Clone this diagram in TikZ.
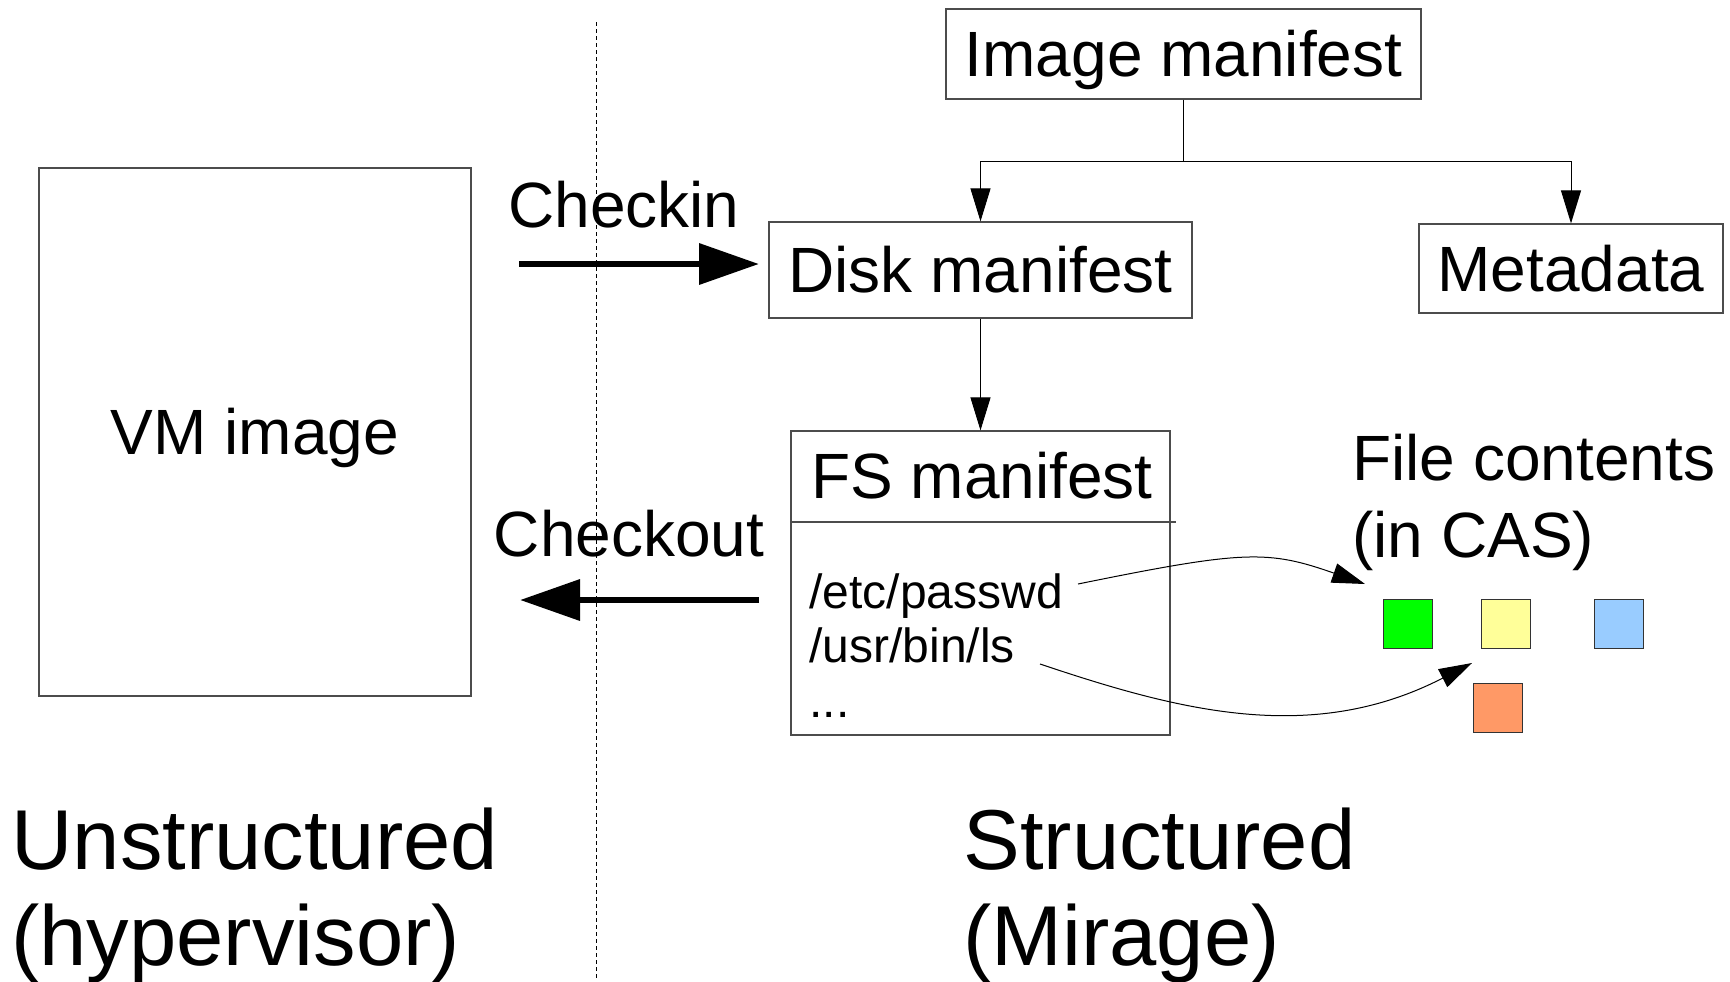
\documentclass[tikz,border=0pt]{standalone}
\usepackage{fontspec}
\setmainfont{Liberation Sans}
\usetikzlibrary{arrows.meta}

\begin{document}
\begin{tikzpicture}[x=0.5pt, y=-0.5pt,
  box/.style={draw=black!70, line width=0.6pt, fill=white, inner sep=0pt,
    font=\fontsize{32}{38}\selectfont, text height=22.6pt, text depth=0pt},
  plain/.style={inner sep=0pt, font=\fontsize{32}{38}\selectfont},
  entry/.style={inner sep=0pt, anchor=base west, font=\fontsize{24}{28}\selectfont},
  biglabel/.style={inner sep=0pt, anchor=base west, font=\fontsize{42.5}{48}\selectfont},
  blob/.style={draw=black!80, line width=0.5pt, minimum size=24.5pt, inner sep=0pt},
  link/.style={line width=0.5pt, -{Triangle[length=16.5pt, width=10pt]}},
  bigarrow/.style={line width=3.4pt, -{Triangle[length=30pt, width=20pt]}},
  divider/.style={dashed, line width=0.5pt, dash pattern=on 2pt off 1.5pt}
]
\useasboundingbox (0,0) rectangle (1730,981);

% separation between the two halves
\coordinate (sepTop) at (596,22);
\coordinate (sepBot) at (596,981);
\draw[divider] (sepTop) -- (sepBot);

% unstructured side
\node[box, minimum width=216pt, minimum height=264pt] (vm) at (255,432) {VM image};

% structured side
\node[box, minimum width=237.5pt, minimum height=45pt] (imgman) at (1183.5,54) {Image manifest};
\node[box, minimum width=211.5pt, minimum height=48pt] (disk) at (980.5,270) {Disk manifest};
\node[box, minimum width=152pt, minimum height=44.5pt] (meta) at (1571,268.5) {Metadata};
\node[box, minimum width=189.5pt, minimum height=152pt] (fs) at (980.5,583) {};
\node[plain, text height=22.6pt, text depth=0pt] (fstitle) at (982,476) {FS manifest};
\coordinate (divL) at (791,522);
\coordinate (divR) at (1176,522);
\draw[draw=black!70, line width=0.6pt] (divL) -- (divR);

\node[entry] (etc) at (809,608) {/etc/passwd};
\node[entry] (usr) at (809,662) {/usr/bin/ls};
\node[entry] (dots) at (809,717) {...};

% tree from the image manifest
\coordinate (fork) at (1183.5,161);
\draw[line width=0.5pt] (imgman.south) -- (fork);
\draw[link] (fork) -| (disk.north);
\draw[link] (fork) -| (meta.north);
\draw[link] (disk.south) -- (fs.north);

% checkin / checkout
\node[plain, anchor=base] (checkin) at (624,227) {Checkin};
\node[plain, anchor=base] (checkout) at (629,556) {Checkout};
\coordinate (inFrom) at (519,264);
\coordinate (inTo) at (759,264);
\coordinate (outFrom) at (759,600);
\coordinate (outTo) at (520,600);
\draw[bigarrow] (inFrom) -- (inTo);
\draw[bigarrow] (outFrom) -- (outTo);

% content-addressed store
\node[plain, anchor=base west] (cas1) at (1352,480) {File contents};
\node[plain, anchor=base west] (cas2) at (1352,557) {(in CAS)};
\node[blob, fill={rgb,255:red,0;green,255;blue,0}] (green) at (1407.5,624) {};
\node[blob, fill={rgb,255:red,255;green,255;blue,153}] (yellow) at (1506,624) {};
\node[blob, fill={rgb,255:red,153;green,204;blue,255}] (blue) at (1619,624) {};
\node[blob, fill={rgb,255:red,255;green,153;blue,102}] (orange) at (1498,707.5) {};

% file entries pointing into the store
\coordinate (p1) at (1078,584);
\coordinate (t1) at (1365,584);
\coordinate (p2) at (1040,664);
\coordinate (t2) at (1472,663);
\draw[link] (p1) .. controls (1245,550) and (1268,550) .. (t1);
\draw[link] (p2) .. controls (1177,710) and (1311,746) .. (t2);

% captions
\node[biglabel] (un1) at (11,869) {Unstructured};
\node[biglabel] (un2) at (11,965) {(hypervisor)};
\node[biglabel] (st1) at (963,869) {Structured};
\node[biglabel] (st2) at (963,965) {(Mirage)};
\end{tikzpicture}
\end{document}
